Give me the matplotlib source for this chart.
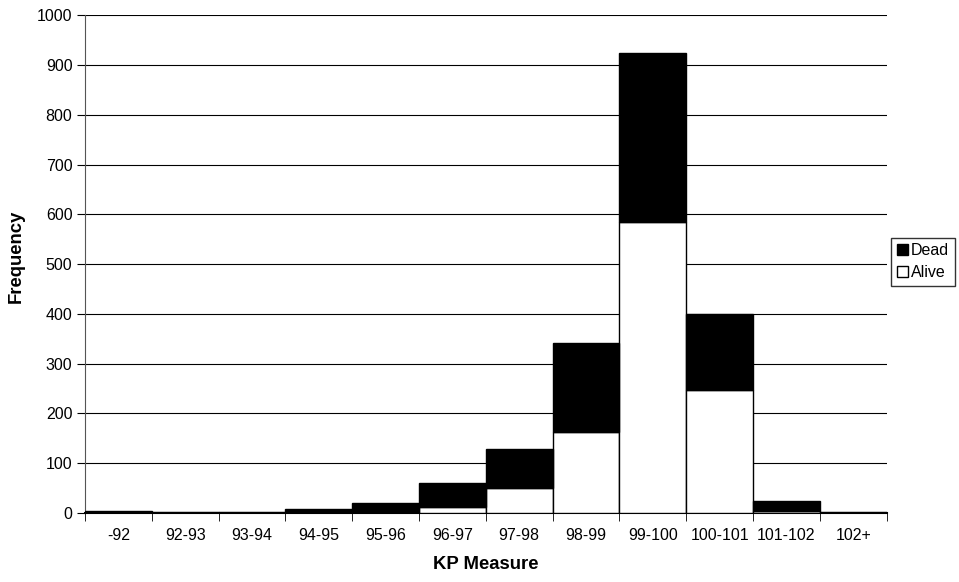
import matplotlib
matplotlib.use("Agg")
import matplotlib.pyplot as plt
from matplotlib.patches import Patch
import numpy as np

plt.rcParams["font.family"] = ["Liberation Sans", "DejaVu Sans"]

categories = ["-92", "92-93", "93-94", "94-95", "95-96", "96-97", "97-98",
              "98-99", "99-100", "100-101", "101-102", "102+"]
alive = [0, 0, 0, 0, 0, 12, 50, 162, 584, 248, 3, 0]
dead = [3, 2, 2, 7, 20, 48, 78, 180, 341, 152, 22, 2]

fig = plt.figure(figsize=(9.59, 5.82), dpi=100)
ax = fig.add_axes([0.0886, 0.1186, 0.836, 0.855])

x = np.arange(len(categories))
ax.bar(x, alive, width=1.0, color="white", edgecolor="black", linewidth=1.0, zorder=3)
ax.bar(x, dead, width=1.0, bottom=alive, color="black", edgecolor="black",
       linewidth=1.0, zorder=3)

ax.set_xlim(-0.5, len(categories) - 0.5)
ax.set_ylim(0, 1000)
ax.set_yticks(np.arange(0, 1001, 100))
ax.yaxis.grid(True, color="black", linewidth=0.8, zorder=0)
ax.set_axisbelow(True)

ax.set_xticks(x)
ax.set_xticklabels(categories, fontsize=11.5)
ax.set_xticks(np.arange(-0.5, len(categories), 1.0), minor=True)
ax.tick_params(axis="x", which="major", length=0, pad=11)
ax.tick_params(axis="x", which="minor", length=6, direction="out", color="black")
ax.tick_params(axis="y", length=6, direction="out", labelsize=11.5, pad=3)

for side in ["top", "right"]:
    ax.spines[side].set_visible(False)
ax.spines["left"].set_color("#555555")
ax.spines["bottom"].set_color("black")
ax.spines["bottom"].set_linewidth(1.5)

ax.set_xlabel("KP Measure", fontsize=13.3, fontweight="bold", labelpad=9)
ax.set_ylabel("Frequency", fontsize=13.3, fontweight="bold")
# centre of the label sits about 25 px from the left edge of the figure
ax.yaxis.set_label_coords(-0.075, 0.515)

handles = [Patch(facecolor="black", edgecolor="black", label="Dead"),
           Patch(facecolor="white", edgecolor="black", label="Alive")]
fig.legend(handles=handles, loc="center left", bbox_to_anchor=(0.929, 0.55),
           fontsize=11.5, frameon=True, fancybox=False, edgecolor="black",
           handlelength=0.7, handleheight=0.7, handletextpad=0.2,
           borderpad=0.35, labelspacing=0.45, borderaxespad=0)

fig.savefig("out.png", dpi=100)
